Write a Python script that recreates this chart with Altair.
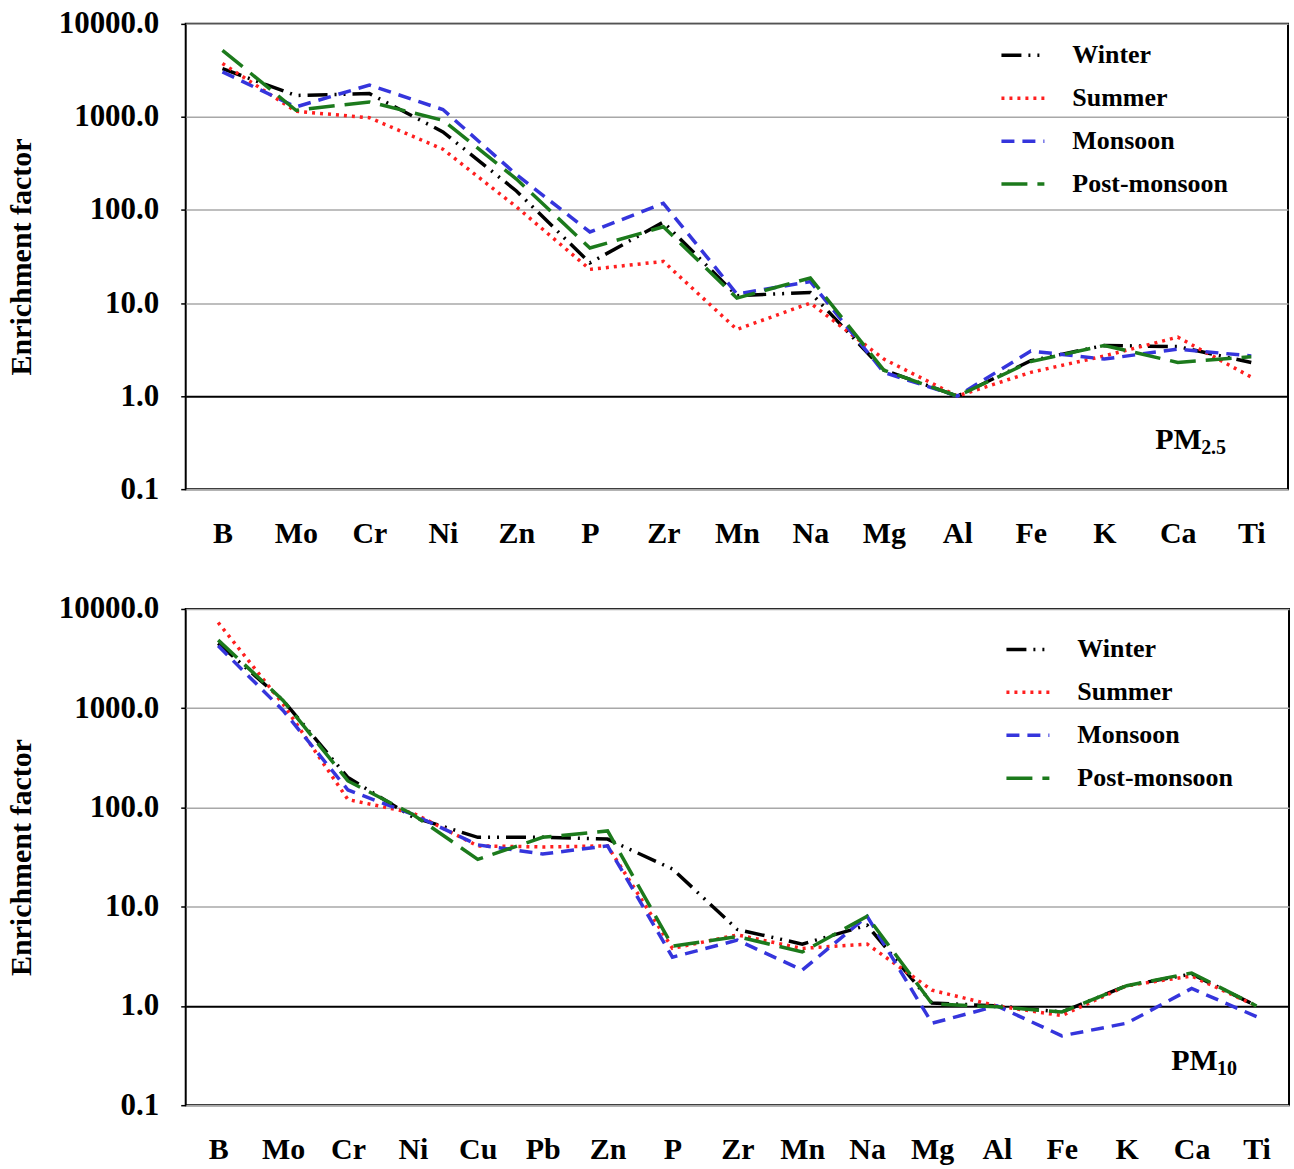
import altair as alt
import pandas as pd

# Element order along the x axis for each size fraction
pm25_elements = ["B", "Mo", "Cr", "Ni", "Zn", "P", "Zr", "Mn", "Na", "Mg", "Al", "Fe", "K", "Ca", "Ti"]
pm10_elements = ["B", "Mo", "Cr", "Ni", "Cu", "Pb", "Zn", "P", "Zr", "Mn", "Na", "Mg", "Al", "Fe", "K", "Ca", "Ti"]

seasons = ["Winter", "Summer", "Monsoon", "Post-monsoon"]

# Enrichment factors, PM2.5
pm25_winter = [3300, 1700, 1780, 690, 160, 27, 74, 12, 13, 1.9, 1.0, 2.4, 3.5, 3.4, 2.3]
pm25_summer = [3750, 1150, 980, 450, 108, 23, 28, 5.2, 10, 2.5, 1.0, 1.8, 2.7, 4.3, 1.6]
pm25_monsoon = [3050, 1280, 2200, 1200, 240, 58, 118, 12.5, 17, 1.8, 1.0, 3.05, 2.5, 3.2, 2.7]
pm25_post = [5200, 1180, 1450, 920, 215, 39, 66, 11.3, 18.6, 1.9, 1.0, 2.35, 3.5, 2.3, 2.65]

# Enrichment factors, PM10
pm10_winter = [4500, 1200, 200, 80, 50, 50, 48, 24, 5.9, 4.2, 6.5, 1.07, 1.0, 0.87, 1.6, 2.1, 1.0]
pm10_summer = [7300, 1100, 120, 88, 41, 40, 41, 3.8, 5.2, 3.8, 4.2, 1.44, 1.0, 0.8, 1.6, 2.0, 1.0]
pm10_monsoon = [4250, 950, 150, 85, 42, 34, 41, 3.1, 4.6, 2.3, 8.0, 0.67, 1.0, 0.5, 0.67, 1.5, 0.78]
pm10_post = [4850, 1200, 185, 85, 30, 50, 58, 4.0, 5.0, 3.5, 8.0, 1.05, 0.98, 0.87, 1.6, 2.15, 1.0]

season_colors = ["#000000", "#ff1f1f", "#3535dc", "#1c7a1c"]
season_dashes = [[20, 7, 2, 7, 2, 7], [3, 5], [13, 8], [26, 10]]

FONT = "Liberation Serif"


def long_table(elements, series):
    rows = []
    for season, values in zip(seasons, series):
        for el, v in zip(elements, values):
            rows.append({"element": el, "season": season, "ef": v})
    return pd.DataFrame(rows)


def panel(elements, series, width, height, legend_x, legend_y, sub_text, pm_x, pm_y, sub_x, sub_y):
    df = long_table(elements, series)
    legend = alt.Legend(
        title=None, orient="none", legendX=legend_x, legendY=legend_y,
        labelFont=FONT, labelFontWeight="bold", labelFontSize=26, labelColor="black",
        symbolType="stroke", symbolSize=1850, symbolStrokeWidth=3.5,
        rowPadding=6, labelOffset=26, labelLimit=400,
    )
    lines = alt.Chart(df).mark_line(strokeWidth=3.5).encode(
        x=alt.X("element:N", sort=elements,
                scale=alt.Scale(type="point", padding=0.5),
                axis=alt.Axis(title=None, labelAngle=0, ticks=False, domain=False,
                              labelFont=FONT, labelFontWeight="bold", labelFontSize=30,
                              labelColor="black", labelPadding=29, grid=False)),
        y=alt.Y("ef:Q",
                scale=alt.Scale(type="log", domain=[0.1, 10000], nice=False),
                axis=alt.Axis(title="Enrichment factor", values=[0.1, 1, 10, 100, 1000, 10000],
                              format=".1f", labelFont=FONT, labelFontWeight="bold",
                              labelFontSize=31, labelColor="black", labelPadding=22,
                              tickSize=5, tickColor="black", tickWidth=1.5,
                              domain=False,
                              titleFont=FONT, titleFontWeight="bold", titleFontSize=30,
                              titleColor="black", titlePadding=22,
                              grid=True,
                              gridColor=alt.condition("datum.value == 1", alt.value("black"), alt.value("#a8a8a8")),
                              gridWidth=alt.condition("datum.value == 1", alt.value(2), alt.value(1.5)))),
        color=alt.Color("season:N", sort=seasons,
                        scale=alt.Scale(domain=seasons, range=season_colors), legend=legend),
        strokeDash=alt.StrokeDash("season:N", sort=seasons,
                                  scale=alt.Scale(domain=seasons, range=season_dashes), legend=legend),
        order=alt.Order("element_order:Q"),
    ).transform_calculate(
        element_order=f"indexof({elements!r}, datum.element)"
    )
    pm = alt.Chart(pd.DataFrame({"t": ["PM"]})).mark_text(
        font=FONT, fontWeight="bold", fontSize=30, align="left", baseline="alphabetic", color="black"
    ).encode(text="t:N", x=alt.value(pm_x), y=alt.value(pm_y))
    sub = alt.Chart(pd.DataFrame({"t": [sub_text]})).mark_text(
        font=FONT, fontWeight="bold", fontSize=20, align="left", baseline="alphabetic", color="black"
    ).encode(text="t:N", x=alt.value(sub_x), y=alt.value(sub_y))
    return alt.layer(lines, pm, sub).properties(width=width, height=height)


top = panel(pm25_elements, [pm25_winter, pm25_summer, pm25_monsoon, pm25_post],
            1104, 466, 815, 8, "2.5", 971, 426, 1017, 431)
bottom = panel(pm10_elements, [pm10_winter, pm10_summer, pm10_monsoon, pm10_post],
               1105, 497, 820, 17, "10", 987, 462, 1033, 467)

chart = alt.vconcat(top, bottom, spacing=120, bounds="flush").resolve_legend(
    color="independent", strokeDash="independent"
).configure_view(
    stroke="black", strokeWidth=2
).properties(
    background="white", padding={"left": 5, "top": 6, "right": 4, "bottom": 4}
)

chart.save("out.html", embed_options={"renderer": "svg", "actions": False})
